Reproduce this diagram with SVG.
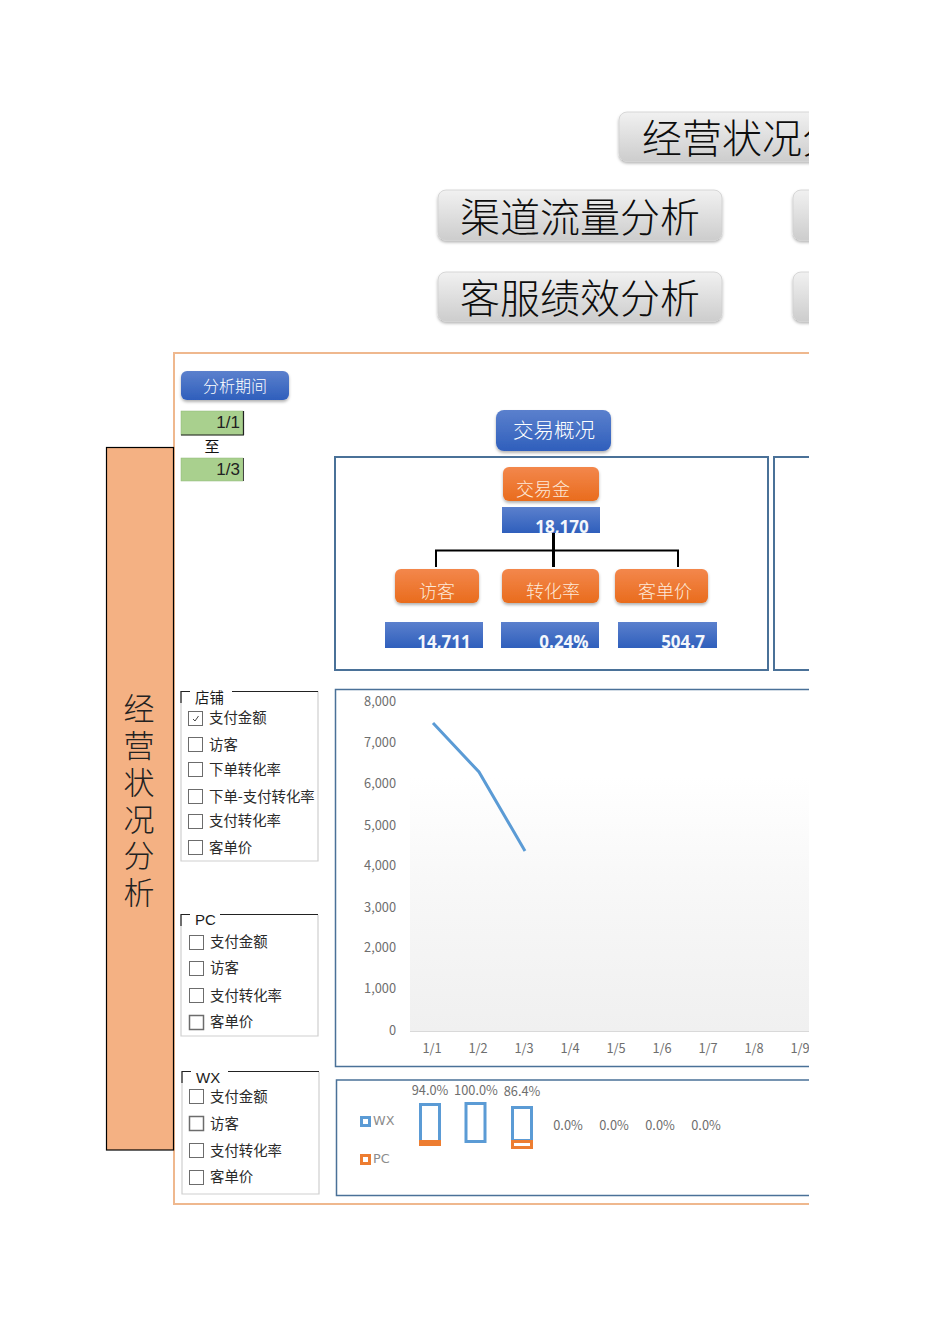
<svg xmlns="http://www.w3.org/2000/svg" width="950" height="1344" viewBox="0 0 950 1344">
<style>
text{font-family:"Noto Sans CJK SC","Liberation Sans",sans-serif}
.big{font-size:40px;font-weight:300;fill:#0d0d0d;text-anchor:middle}
.gb{fill:url(#gray);stroke:#cfcfcf;stroke-width:.8;filter:url(#sh)}
.bb{fill:url(#blue);filter:url(#sh)}
.ob{fill:url(#orange);filter:url(#sh)}
.val{fill:url(#blue)}
.wt{fill:#fff;text-anchor:middle;font-size:19px;font-weight:300}
.or{fill:#fde9d9;text-anchor:middle;font-size:18px;font-weight:300}
.num{font-family:"Open Sans","Liberation Sans",sans-serif;font-weight:700;font-size:17px;fill:#f4f7fc;text-anchor:middle}
.fr{fill:none;stroke:#4a7198;stroke-width:2}
.ax{font-family:"DejaVu Sans",sans-serif;font-size:12.800px;fill:#6e6e6e}
.ck{fill:#fff;stroke:#6c6c6c;stroke-width:1}
.lb{font-size:14.400px;fill:#2a2a2a}
.gt{font-size:14.400px;fill:#1a1a1a}
.gl{fill:none;stroke:#cfcfcf;stroke-width:1.200}
.gd{fill:none;stroke:#222;stroke-width:1.200}
.dt{font-size:17px;fill:#222;text-anchor:end;font-family:"Liberation Sans",sans-serif}
.cell{fill:#a9d08e;stroke:#8fb878;stroke-width:.5}
</style>
<defs>
<linearGradient id="gray" x1="0" y1="0" x2="0" y2="1"><stop offset="0" stop-color="#f1f1f1"/><stop offset="1" stop-color="#cdcdcd"/></linearGradient>
<linearGradient id="blue" x1="0" y1="0" x2="0" y2="1"><stop offset="0" stop-color="#5b80cd"/><stop offset="1" stop-color="#2f5fbc"/></linearGradient>
<linearGradient id="orange" x1="0" y1="0" x2="0" y2="1"><stop offset="0" stop-color="#f3874c"/><stop offset="1" stop-color="#e96c1d"/></linearGradient>
<linearGradient id="plot" x1="0" y1="0" x2="0" y2="1"><stop offset="0" stop-color="#ffffff"/><stop offset=".4" stop-color="#f8f8f8"/><stop offset="1" stop-color="#f0f0f0"/></linearGradient>
<filter id="sh" x="-10%" y="-15%" width="120%" height="135%"><feDropShadow dx="0" dy="2" stdDeviation="1.500" flood-color="#000" flood-opacity=".3"/></filter>
<clipPath id="page"><rect x="0" y="0" width="809" height="1344"/></clipPath>
</defs>
<rect width="950" height="1344" fill="#fff"/>
<g clip-path="url(#page)">
<g id="nav-overview"><rect class="gb" x="619" y="112" width="300" height="49" rx="8"/><text class="big" x="762" y="153">经营状况分析</text></g>
<g id="nav-channel"><rect class="gb" x="438" y="190" width="284" height="50" rx="8"/><text class="big" x="580" y="232">渠道流量分析</text></g>
<g id="nav-right-1"><rect class="gb" x="793" y="190" width="60" height="50" rx="8"/></g>
<g id="nav-service"><rect class="gb" x="438" y="272" width="284" height="49" rx="8"/><text class="big" x="580" y="313">客服绩效分析</text></g>
<g id="nav-right-2"><rect class="gb" x="793" y="272" width="60" height="49" rx="8"/></g>

<g id="panel"><rect x="174" y="353" width="700" height="851" fill="none" stroke="#efb88e" stroke-width="2"/></g>
<g id="side-title"><rect x="106.500" y="447.500" width="67" height="702.500" fill="#f4b183" stroke="#000" stroke-width="1.200"/>
<text x="139" y="693" font-size="31" font-weight="300" fill="#222" letter-spacing="5.800" style="writing-mode:vertical-rl">经营状况分析</text></g>

<g id="period"><rect class="bb" x="181" y="371" width="108" height="29" rx="6"/><text class="wt" x="235" y="392" style="font-size:16px">分析期间</text>
<rect class="cell" x="181" y="411" width="62" height="24"/><path d="M181 435H244M243.500 411V435" stroke="#222" fill="none" stroke-width="1.200"/><text class="dt" x="240" y="428">1/1</text>
<text x="212" y="452" font-size="15" fill="#111" text-anchor="middle">至</text>
<rect class="cell" x="181" y="458" width="62" height="23"/><path d="M243.500 458V481" stroke="#444" fill="none"/><text class="dt" x="240" y="475">1/3</text></g>

<g id="section-title"><rect class="bb" x="496" y="410" width="115" height="41" rx="8"/><text class="wt" x="554" y="438" style="font-size:20.500px">交易概况</text></g>
<g id="kpi-frame"><rect class="fr" x="335" y="457" width="433" height="213"/><rect class="fr" x="774" y="457" width="120" height="213"/></g>

<g id="connectors"><path d="M436 567V550.500H678V567" fill="none" stroke="#000" stroke-width="2"/><path d="M553.500 533V567" fill="none" stroke="#000" stroke-width="3"/></g>

<g id="kpi-sales"><rect class="ob" x="503" y="467" width="96" height="34" rx="6"/><text class="or" x="543" y="496">交易金</text><rect class="val" x="502" y="507" width="98" height="26"/><text class="num" x="562" y="533">18,170</text></g>
<g id="kpi-visitor"><rect class="ob" x="395" y="569" width="84" height="34" rx="6"/><text class="or" x="437" y="598">访客</text><rect class="val" x="385" y="622" width="98" height="26"/><text class="num" x="444" y="648">14,711</text></g>
<g id="kpi-rate"><rect class="ob" x="502" y="569" width="97" height="34" rx="6"/><text class="or" x="553" y="598">转化率</text><rect class="val" x="501" y="622" width="98" height="26"/><text class="num" x="564" y="648">0.24%</text></g>
<g id="kpi-price"><rect class="ob" x="615" y="569" width="93" height="34" rx="6"/><text class="or" x="665" y="598">客单价</text><rect class="val" x="618" y="622" width="99" height="26"/><text class="num" x="683" y="648">504.7</text></g>

<g id="group-store">
<path class="gl" d="M181 691V861H318V691"/><path class="gd" d="M181 703V691.500H190M232 691.500H318"/>
<text class="gt" x="195" y="703">店铺</text>
<rect class="ck" x="188.500" y="711.500" width="14" height="14"/><path d="M193 719l2 2 3.500-5" fill="none" stroke="#444"/><text class="lb" x="209" y="723">支付金额</text>
<rect class="ck" x="188.500" y="737.500" width="14" height="14"/><text class="lb" x="209" y="750">访客</text>
<rect class="ck" x="188.500" y="762.500" width="14" height="14"/><text class="lb" x="209" y="775">下单转化率</text>
<rect class="ck" x="188.500" y="789.500" width="14" height="14"/><text class="lb" x="209" y="802">下单-支付转化率</text>
<rect class="ck" x="188.500" y="814.500" width="14" height="14"/><text class="lb" x="209" y="826">支付转化率</text>
<rect class="ck" x="188.500" y="840.500" width="14" height="14"/><text class="lb" x="209" y="853">客单价</text>
</g>
<g id="group-pc">
<path class="gl" d="M181 915V1036H318V915"/><path class="gd" d="M181 926V914.500H190M220 914.500H318"/>
<text class="gt" x="195" y="925" style="font-family:'Liberation Sans',sans-serif;font-size:15px">PC</text>
<rect class="ck" x="189.500" y="935.500" width="14" height="14"/><text class="lb" x="210" y="947">支付金额</text>
<rect class="ck" x="189.500" y="961.500" width="14" height="14"/><text class="lb" x="210" y="973">访客</text>
<rect class="ck" x="189.500" y="988.500" width="14" height="14"/><text class="lb" x="210" y="1001">支付转化率</text>
<rect class="ck" x="189.500" y="1015.500" width="14" height="14" style="stroke-width:1.500"/><text class="lb" x="210" y="1027">客单价</text>
</g>
<g id="group-wx">
<path class="gl" d="M182 1072V1194H319V1072"/><path class="gd" d="M182 1083V1071.500H191M228 1071.500H319"/>
<text class="gt" x="196" y="1083" style="font-family:'Liberation Sans',sans-serif;font-size:15px">WX</text>
<rect class="ck" x="189.500" y="1089.500" width="14" height="14"/><text class="lb" x="210" y="1102">支付金额</text>
<rect class="ck" x="189.500" y="1116.500" width="14" height="14" style="stroke-width:1.500"/><text class="lb" x="210" y="1129">访客</text>
<rect class="ck" x="189.500" y="1143.500" width="14" height="14"/><text class="lb" x="210" y="1156">支付转化率</text>
<rect class="ck" x="189.500" y="1170.500" width="14" height="14"/><text class="lb" x="210" y="1182">客单价</text>
</g>

<g id="line-chart">
<rect class="fr" x="335.500" y="689.500" width="560" height="377" style="stroke-width:1.500"/>
<rect x="410" y="776" width="420" height="255" fill="url(#plot)"/>
<path d="M410 1031.500H830" stroke="#d9d9d9" fill="none"/>
<g class="ax" text-anchor="end">
<text x="396" y="706">8,000</text><text x="396" y="747">7,000</text><text x="396" y="788">6,000</text><text x="396" y="830">5,000</text><text x="396" y="870">4,000</text><text x="396" y="912">3,000</text><text x="396" y="952">2,000</text><text x="396" y="993">1,000</text><text x="396" y="1035">0</text>
</g>
<g class="ax" text-anchor="middle">
<text x="432" y="1053">1/1</text><text x="478" y="1053">1/2</text><text x="524" y="1053">1/3</text><text x="570" y="1053">1/4</text><text x="616" y="1053">1/5</text><text x="662" y="1053">1/6</text><text x="708" y="1053">1/7</text><text x="754" y="1053">1/8</text><text x="800" y="1053">1/9</text>
</g>
<path d="M433 723L479 772L525 851" fill="none" stroke="#5b9bd5" stroke-width="3"/>
</g>

<g id="bar-chart">
<rect class="fr" x="336.500" y="1080" width="560" height="115.500" style="stroke-width:1.500"/>
<rect x="361.500" y="1117.500" width="8" height="8" fill="#fff" stroke="#5b9bd5" stroke-width="3"/><text class="ax" x="373" y="1125" style="fill:#8c8c8c">WX</text>
<rect x="361.500" y="1155.500" width="8" height="8" fill="#fff" stroke="#ed7d31" stroke-width="3"/><text class="ax" x="373" y="1163" style="fill:#8c8c8c">PC</text>
<rect x="420.500" y="1104.500" width="19" height="37" fill="#fff" stroke="#5b9bd5" stroke-width="3"/>
<rect x="419" y="1140" width="22" height="6" fill="#ed7d31"/>
<rect x="466" y="1103.500" width="19" height="38" fill="#fff" stroke="#5b9bd5" stroke-width="3"/>
<rect x="512.500" y="1107.500" width="19" height="33" fill="#fff" stroke="#5b9bd5" stroke-width="3"/>
<rect x="512.500" y="1141.500" width="19" height="6" fill="#fff" stroke="#ed7d31" stroke-width="3"/>
<g class="ax" text-anchor="middle">
<text x="430" y="1095">94.0%</text><text x="476" y="1095">100.0%</text><text x="522" y="1096">86.4%</text>
<text x="568" y="1130">0.0%</text><text x="614" y="1130">0.0%</text><text x="660" y="1130">0.0%</text><text x="706" y="1130">0.0%</text>
</g>
</g>
</g>
</svg>
